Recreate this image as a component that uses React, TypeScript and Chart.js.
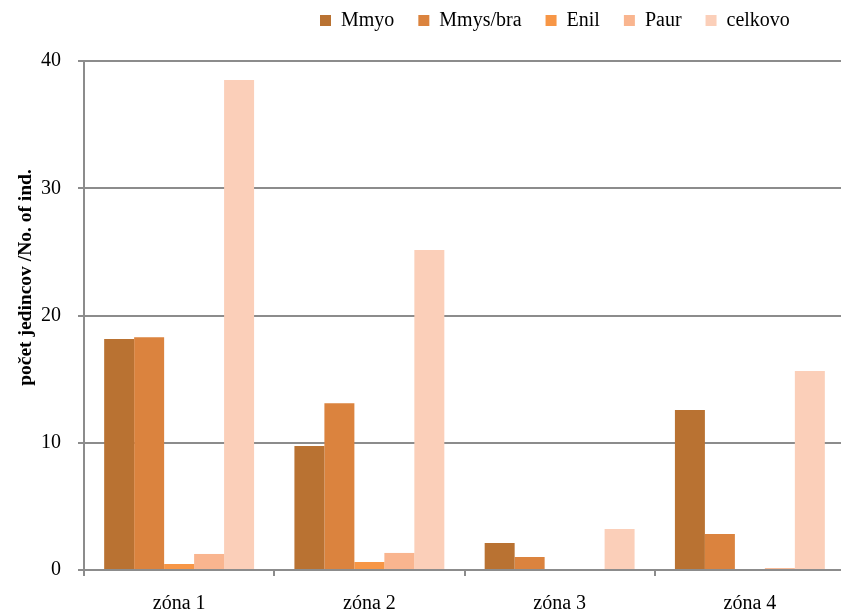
import React, { useEffect, useRef } from "react";
import { Chart, registerables } from "chart.js";

Chart.register(...registerables);

const categories = ["zóna 1", "zóna 2", "zóna 3", "zóna 4"];
const seriesNames = ["Mmyo", "Mmys/bra", "Enil", "Paur", "celkovo"];
const mmyo = [18.15, 9.75, 2.12, 12.57];
const mmysBra = [18.3, 13.1, 1.02, 2.83];
const enil = [0.47, 0.63, 0, 0];
const paur = [1.26, 1.34, 0, 0.15];
const celkovo = [38.5, 25.15, 3.22, 15.64];
const colors = ["#B97232", "#DB833E", "#F79646", "#F9B58F", "#FBCFB9"];
const yTicks = [0, 10, 20, 30, 40];
const yTitle = "počet jedincov /No. of ind.";

const FONT = "'Liberation Serif', 'Times New Roman', serif";

export default function App() {
  const ref = useRef<HTMLCanvasElement | null>(null);

  useEffect(() => {
    document.documentElement.style.overflow = "hidden";
    document.body.style.margin = "0";
    document.body.style.overflow = "hidden";
    const canvas = ref.current;
    if (!canvas) return;
    const values = [mmyo, mmysBra, enil, paur, celkovo];

    const legendShift = {
      id: "legendShift",
      afterLayout(chart: any) {
        const lg = chart.legend;
        if (!lg) return;
        const w = lg.width;
        const h = lg.height;
        lg.left = 296;
        lg.right = lg.left + w;
        lg.top = -13.5;
        lg.bottom = lg.top + h;
      },
    };

    const yTitlePlugin = {
      id: "yTitlePlugin",
      afterDraw(chart: any) {
        const ctx = chart.ctx;
        ctx.save();
        ctx.translate(26, 277.5);
        ctx.rotate(-Math.PI / 2);
        ctx.font = `bold 19.5px ${FONT}`;
        ctx.fillStyle = "#000";
        ctx.textAlign = "center";
        ctx.textBaseline = "middle";
        ctx.fillText(yTitle, 0, 0);
        ctx.restore();
      },
    };

    const chart = new Chart(canvas, {
      type: "bar",
      data: {
        labels: categories,
        datasets: seriesNames.map((name, i) => ({
          label: name,
          data: values[i],
          backgroundColor: colors[i],
          borderWidth: 0,
          barPercentage: 1,
          categoryPercentage: 0.788,
        })),
      },
      options: {
        responsive: false,
        animation: false,
        layout: { padding: { left: 24, top: 7, right: 0, bottom: -19 } },
        plugins: {
          legend: {
            position: "top",
            align: "start",
            labels: {
              boxWidth: 11,
              boxHeight: 11,
              padding: 24,
              color: "#000",
              font: { family: FONT, size: 20 },
            },
          },
          tooltip: { enabled: false },
          title: { display: false },
        },
        scales: {
          x: {
            grid: {
              drawOnChartArea: false,
              drawTicks: true,
              tickLength: 6,
              color: "#8c8c8c",
              lineWidth: 2,
              offset: true,
            },
            border: { color: "#8c8c8c", width: 2 },
            ticks: {
              color: "#000",
              padding: 18,
              font: { family: FONT, size: 20, lineHeight: 1 },
            },
          },
          y: {
            min: 0,
            max: 40,
            afterBuildTicks(scale: any) {
              scale.ticks = yTicks.map((v) => ({ value: v }));
            },
            grid: {
              color: "#8c8c8c",
              lineWidth: 2,
              tickLength: 6,
            },
            border: { color: "#8c8c8c", width: 2 },
            ticks: {
              color: "#000",
              padding: 17,
              font: { family: FONT, size: 20 },
            },
            title: { display: false },
          },
        },
      },
      plugins: [legendShift, yTitlePlugin],
    });
    return () => chart.destroy();
  }, []);

  return (
    <div style={{ width: 845, height: 613, background: "#fff" }}>
      <canvas ref={ref} width={845} height={613} style={{ display: "block" }} />
    </div>
  );
}
